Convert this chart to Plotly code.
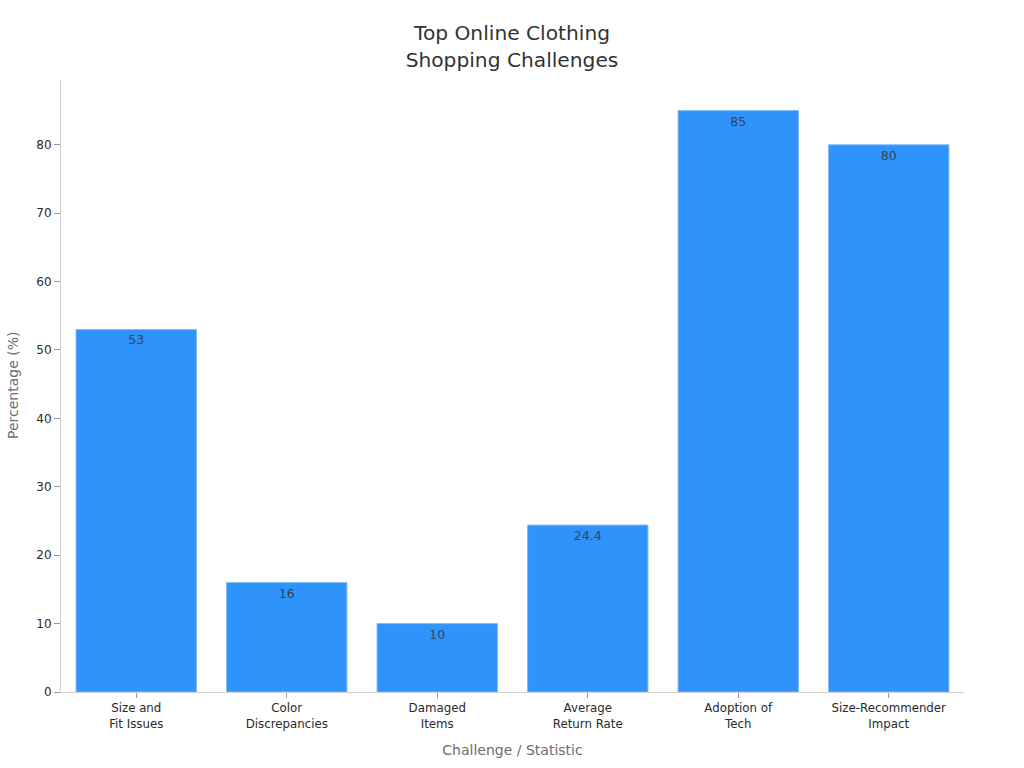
import plotly.graph_objects as go

categories = ["Size and<br>Fit Issues", "Color<br>Discrepancies", "Damaged<br>Items",
              "Average<br>Return Rate", "Adoption of<br>Tech", "Size-Recommender<br>Impact"]
values = [53, 16, 10, 24.4, 85, 80]
labels = ["53", "16", "10", "24.4", "85", "80"]
ticks = [0, 10, 20, 30, 40, 50, 60, 70, 80]

FONT = "DejaVu Sans"
fig = go.Figure(go.Bar(
    x=categories, y=values, text=labels, textposition="inside", insidetextanchor="end",
    textangle=0, constraintext="none",
    textfont=dict(family=FONT, size=12.5, color="#33475b"),
    marker=dict(color="#2e93fa", line=dict(color="#7fbcf5", width=1)),
    width=0.8, hoverinfo="x+y",
))
fig.update_layout(
    width=1024, height=768, autosize=False,
    margin=dict(l=61, r=60, t=80, b=76),
    paper_bgcolor="white", plot_bgcolor="white", showlegend=False,
    font=dict(family=FONT, color="#222222"),
    title=dict(text="Top Online Clothing<br>Shopping Challenges", x=0.5, xanchor="center",
               y=0.9476, yanchor="middle", font=dict(family=FONT, size=20.2, color="#333333")),
    xaxis=dict(tickfont=dict(size=11.8, color="#2a2a2a"), showline=True, linecolor="#d0d0d0",
               ticks="outside", ticklen=5, tickcolor="#999999", range=[-0.5, 5.5], automargin=False,
               title=dict(text="Challenge / Statistic", standoff=15,
                          font=dict(size=14, color="#6e6e6e"))),
    yaxis=dict(tickvals=ticks, range=[0, 89.47], showgrid=False, zeroline=False, automargin=False,
               showline=True, linecolor="#d0d0d0", ticks="outside", ticklen=6, tickcolor="#999999",
               tickfont=dict(size=12, color="#2a2a2a")),
    annotations=[dict(text="Percentage (%)", textangle=-90, showarrow=False,
                      xref="paper", yref="paper", x=0, y=0.5, xanchor="center", yanchor="middle",
                      xshift=-48, font=dict(size=14, color="#6e6e6e"))],
)
fig.write_html("out.html", config=dict(displayModeBar=False),
               post_script="document.body.style.margin='0';document.documentElement.style.overflow='hidden';")
